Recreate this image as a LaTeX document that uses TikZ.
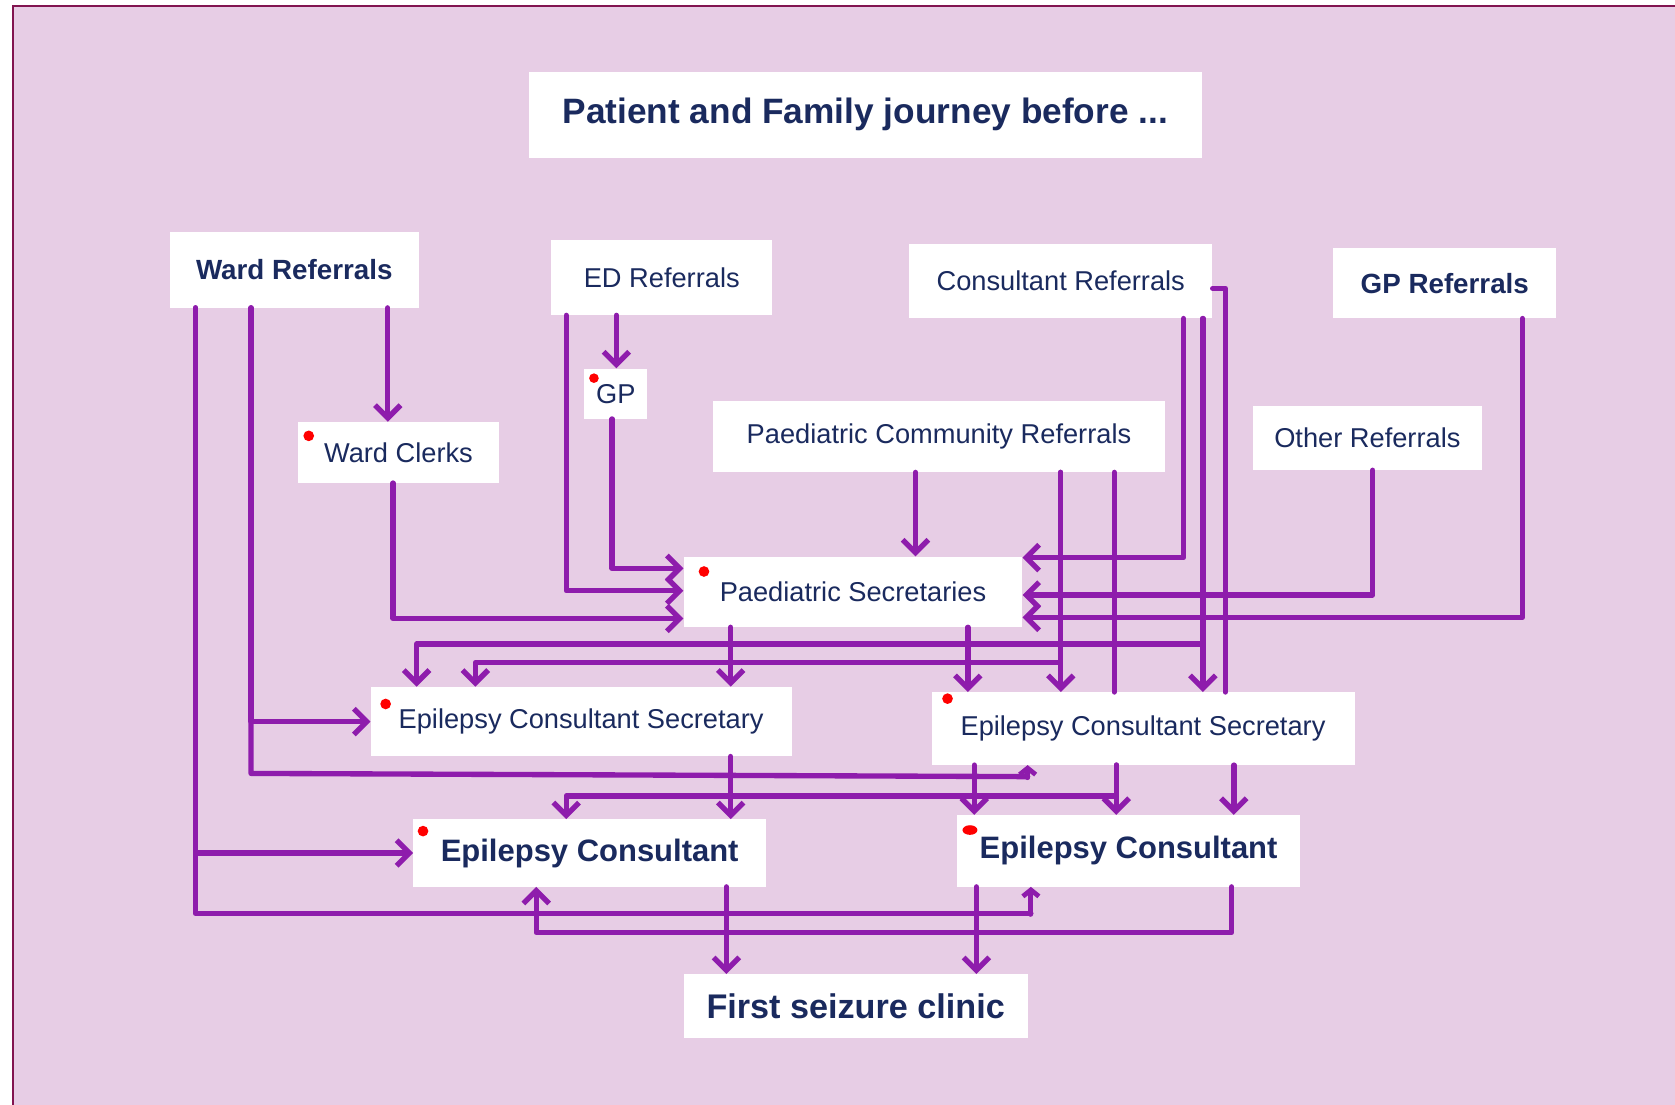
\documentclass[tikz,border=0pt]{standalone}
\usepackage{fontspec}
\setmainfont{Liberation Sans}
\usetikzlibrary{arrows.meta}
\definecolor{bgpink}{RGB}{231,205,229}
\definecolor{ink}{RGB}{142,28,172}
\definecolor{navy}{RGB}{26,42,94}
\definecolor{framec}{RGB}{130,20,80}
\begin{document}
\begin{tikzpicture}[x=1pt,y=-1pt,
  box/.style={fill=white,inner sep=0pt,text=navy,font=\fontsize{25.5}{30}\selectfont},
  boldbox/.style={box,font=\fontsize{26}{30}\selectfont\bfseries},
  bigbox/.style={box,font=\fontsize{29}{34}\selectfont\bfseries},
  conn/.style={draw=ink,line width=5pt,line cap=round,line join=round,-{Straight Barb[length=12pt,width=24pt]}},
  shortconn/.style={draw=ink,line width=4.5pt,line cap=round,line join=round,-{Straight Barb[length=6pt,width=15pt]}},
  plain/.style={draw=ink,line width=5pt,line cap=round,line join=round},
  reddot/.style={fill=red}]
\useasboundingbox (0,0) rectangle (1568,1034);
\fill[white] (0,0) rectangle (1568,1034);
\fill[bgpink] (12,6) rectangle (1568,1034);
\draw[framec,line width=2pt] (12,1034) -- (12,6) -- (1568,6);

% nodes
\node[box,font=\fontsize{33}{38}\selectfont\bfseries,minimum width=630pt,minimum height=81pt] (title) at (810,107.5) {Patient and Family journey before ...};
\node[boldbox,minimum width=233pt,minimum height=71pt] (ward) at (275.5,252.5) {Ward Referrals};
\node[box,minimum width=207pt,minimum height=70pt] (ed) at (619.5,260) {ED Referrals};
\node[box,minimum width=284pt,minimum height=70pt] (cons) at (993,263) {Consultant Referrals};
\node[boldbox,minimum width=209pt,minimum height=66pt] (gpr) at (1352.5,265) {GP Referrals};
\node[box,minimum width=59pt,minimum height=47pt] (gp) at (576.5,368.5) {GP};
\node[box,minimum width=188pt,minimum height=57pt] (clerks) at (373,423.5) {Ward Clerks};
\node[box,minimum width=424pt,minimum height=67pt] (pcr) at (879,408.5) {Paediatric Community Referrals};
\node[box,minimum width=214pt,minimum height=60pt] (other) at (1280,410) {Other Referrals};
\node[box,minimum width=317pt,minimum height=66pt] (ps) at (798.5,554) {Paediatric Secretaries};
\node[box,minimum width=394pt,minimum height=65pt] (ecsa) at (544,675.5) {Epilepsy Consultant Secretary};
\node[box,minimum width=396pt,minimum height=68pt] (ecsb) at (1070,682) {Epilepsy Consultant Secretary};
\node[bigbox,minimum width=330pt,minimum height=63pt] (eca) at (552,798.5) {Epilepsy Consultant};
\node[bigbox,minimum width=321pt,minimum height=67pt] (ecb) at (1056.5,796.5) {Epilepsy Consultant};
\node[box,font=\fontsize{32}{36}\selectfont\bfseries,minimum width=322pt,minimum height=60pt] (fsc) at (801,942) {First seizure clinic};

% red dots
\fill[reddot] (289,408) circle (5pt);
\fill[reddot] (556,354) circle (4.5pt);
\fill[reddot] (659,535) circle (5pt);
\fill[reddot] (361,659) circle (5pt);
\fill[reddot] (887,654) circle (5pt);
\fill[reddot] (396,778) circle (5pt);
\fill[reddot] (908,777) ellipse (7pt and 4.5pt);

% Ward Referrals
\draw[conn] (ward.south -| 183,0) |- (eca.west);
\draw[plain] (ward.south -| 183,0) -- (183,855) -- (965,855);
\draw[shortconn] (965,856) -- (ecb.south -| 965,0);
\draw[conn] (ward.south -| 235,0) |- (ecsa.west);
\draw[plain] (ward.south -| 235,0) -- (235,724) -- (962,727);
\draw[shortconn] (962,728) -- (ecsb.south -| 962,0);
\draw[conn] (ward.south -| 363,0) -- (clerks.north -| 363,0);
% Ward Clerks
\draw[conn] (clerks.south -| 368,0) |- (ps.west |- 0,579);
% ED Referrals
\draw[conn] (ed.south -| 530,0) |- (ps.west |- 0,553);
\draw[conn] (ed.south -| 577,0) -- (gp.north -| 577,0);
% GP
\draw[conn] (gp.south -| 573,0) |- (ps.west |- 0,532);
% Paediatric Community Referrals
\draw[conn] (pcr.south -| 857,0) -- (ps.north -| 857,0);
\draw[conn] (pcr.south -| 993,0) -- (ecsb.north -| 993,0);
\draw[conn] (pcr.south -| 993,0) |- (445,620) -- (ecsa.north -| 445,0);
\draw[plain] (pcr.south -| 1043,0) -- (ecsb.north -| 1043,0);
% Consultant Referrals
\draw[conn] (cons.south -| 1108,0) |- (ps.east |- 0,522);
\draw[conn] (cons.south -| 1126,0) -- (ecsb.north -| 1126,0);
\draw[conn] (cons.south -| 1126,0) |- (390,603) -- (ecsa.north -| 390,0);
\draw[plain] (cons.east |- 0,270) -- (1147,270) -- (ecsb.north -| 1147,0);
% Other Referrals
\draw[conn] (other.south -| 1285,0) |- (ps.east |- 0,557);
% GP Referrals
\draw[conn] (gpr.south -| 1425,0) |- (ps.east |- 0,578);
% Paediatric Secretaries
\draw[conn] (ps.south -| 684,0) -- (ecsa.north -| 684,0);
\draw[conn] (ps.south -| 906,0) -- (ecsb.north -| 906,0);
% Epilepsy Consultant Secretaries
\draw[conn] (ecsa.south -| 684,0) -- (eca.north -| 684,0);
\draw[conn] (ecsb.south -| 912,0) -- (ecb.north -| 912,0);
\draw[conn] (ecsb.south -| 1045,0) -- (ecb.north -| 1045,0);
\draw[conn] (ecsb.south -| 1045,0) |- (530,745) -- (eca.north -| 530,0);
\draw[conn] (ecsb.south -| 1155,0) -- (ecb.north -| 1155,0);
% Epilepsy Consultants
\draw[conn] (eca.south -| 680,0) -- (fsc.north -| 680,0);
\draw[conn] (ecb.south -| 914,0) -- (fsc.north -| 914,0);
\draw[conn] (ecb.south -| 1153,0) |- (502,873) -- (eca.south -| 502,0);
\end{tikzpicture}
\end{document}
